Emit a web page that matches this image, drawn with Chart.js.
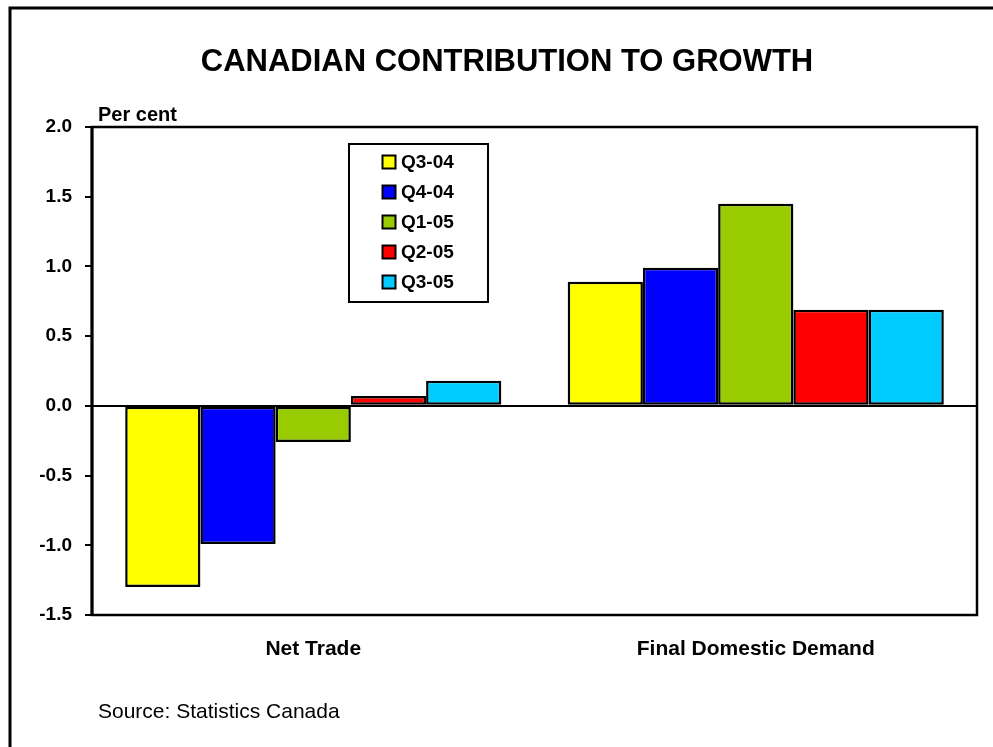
<!DOCTYPE html>
<html>
<head>
<meta charset="utf-8">
<title>Canadian Contribution to Growth</title>
<script src="https://cdn.jsdelivr.net/npm/chart.js@4/dist/chart.umd.min.js"></script>
<style>
  html, body { margin: 0; padding: 0; background: #fff; }
  #wrap { width: 993px; height: 747px; }
</style>
</head>
<body>
<div id="wrap"><canvas id="c" width="993" height="747"></canvas></div>
<script>
// Contribution to real GDP growth, percentage points
const categories = ['Net Trade', 'Final Domestic Demand'];
const quarters = ['Q3-04', 'Q4-04', 'Q1-05', 'Q2-05', 'Q3-05'];
const netTrade = [-1.3, -0.99, -0.26, 0.07, 0.18];
const finalDemand = [0.89, 0.99, 1.45, 0.69, 0.69];
const yTicks = [-1.5, -1.0, -0.5, 0.0, 0.5, 1.0, 1.5, 2.0];
const colours = ['#FFFF00', '#0000FF', '#99CC00', '#FF0000', '#00CCFF'];

const FONT = '"Liberation Sans", Arial, Helvetica, sans-serif';

const datasets = quarters.map((q, i) => ({
  label: q,
  data: [netTrade[i], finalDemand[i]],
  backgroundColor: colours[i],
  borderColor: '#000',
  borderWidth: 2.5,
  borderSkipped: false
}));

// Frame, titles, source note and the boxed legend
const decorations = {
  id: 'decorations',
  beforeDraw(chart) {
    const ctx = chart.ctx;
    ctx.save();
    ctx.fillStyle = '#fff';
    ctx.fillRect(0, 0, chart.width, chart.height);
    ctx.strokeStyle = '#000';
    ctx.lineWidth = 3;
    ctx.beginPath();
    ctx.moveTo(10, chart.height);
    ctx.lineTo(10, 8);
    ctx.lineTo(chart.width, 8);
    ctx.stroke();

    ctx.fillStyle = '#000';
    ctx.textAlign = 'center';
    ctx.textBaseline = 'alphabetic';
    ctx.font = 'bold 31px ' + FONT;
    ctx.fillText('CANADIAN CONTRIBUTION TO GROWTH', 507, 71);

    ctx.textAlign = 'left';
    ctx.font = 'bold 20px ' + FONT;
    ctx.fillText('Per cent', 98, 121);

    ctx.font = '21px ' + FONT;
    ctx.fillText('Source: Statistics Canada', 98, 718);
    ctx.restore();
  },
  afterDatasetsDraw(chart) {
    const ctx = chart.ctx;
    const a = chart.chartArea;
    ctx.save();
    ctx.strokeStyle = '#000';
    ctx.lineWidth = 2.5;
    ctx.strokeRect(a.left, a.top, a.right - a.left, a.bottom - a.top);
    ctx.lineWidth = 3;
    ctx.beginPath();
    ctx.moveTo(a.left, a.top - 1);
    ctx.lineTo(a.left, a.bottom + 1);
    ctx.stroke();

    // legend box
    const bx = 349, by = 144, bw = 139, bh = 158;
    ctx.fillStyle = '#fff';
    ctx.fillRect(bx, by, bw, bh);
    ctx.lineWidth = 2;
    ctx.strokeRect(bx, by, bw, bh);
    ctx.font = 'bold 19px ' + FONT;
    ctx.textBaseline = 'middle';
    ctx.textAlign = 'left';
    chart.data.datasets.forEach((ds, i) => {
      const cy = 162 + i * 30;
      ctx.fillStyle = ds.backgroundColor;
      ctx.fillRect(382.5, cy - 6.5, 13, 13);
      ctx.lineWidth = 2;
      ctx.strokeStyle = '#000';
      ctx.strokeRect(382.5, cy - 6.5, 13, 13);
      ctx.fillStyle = '#000';
      ctx.fillText(ds.label, 401, cy + 1);
    });
    ctx.restore();
  }
};

new Chart(document.getElementById('c'), {
  type: 'bar',
  data: { labels: categories, datasets },
  plugins: [decorations],
  options: {
    responsive: false,
    animation: false,
    layout: { padding: { left: 0, top: 127, right: 16, bottom: 72 } },
    plugins: { legend: { display: false }, title: { display: false }, tooltip: { enabled: false } },
    datasets: { bar: { barPercentage: 1.0, categoryPercentage: 0.85 } },
    scales: {
      x: {
        grid: { display: false, drawTicks: false },
        border: { display: false },
        ticks: { color: '#000', font: { family: FONT, size: 21, weight: 'bold' }, padding: 22, maxRotation: 0 },
        afterFit(scale) { scale.height = 60; }
      },
      y: {
        min: -1.5,
        max: 2.0,
        afterBuildTicks(scale) { scale.ticks = yTicks.map(v => ({ value: v })); },
        grid: {
          drawTicks: true,
          tickLength: 7,
          tickWidth: 2,
          tickColor: '#000',
          color: ctx => (ctx.tick && ctx.tick.value === 0 ? '#000' : 'rgba(0,0,0,0)'),
          lineWidth: ctx => (ctx.tick && ctx.tick.value === 0 ? 2 : 0)
        },
        border: { display: false },
        ticks: {
          color: '#000',
          font: { family: FONT, size: 19, weight: 'bold' },
          padding: 13,
          callback: v => Number(v).toFixed(1)
        },
        afterFit(scale) { scale.width = 92; }
      }
    }
  }
});
</script>
</body>
</html>
